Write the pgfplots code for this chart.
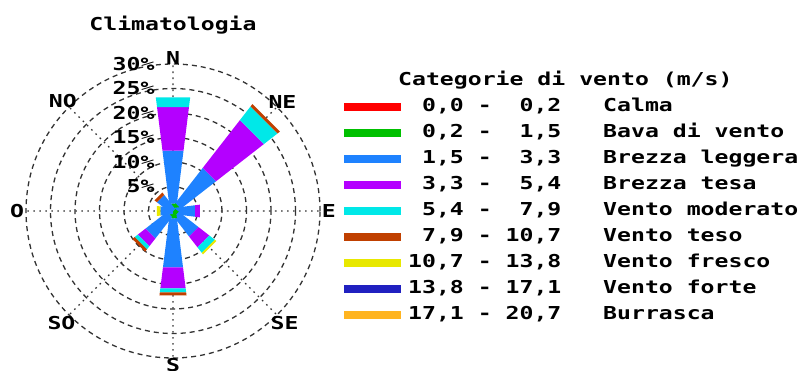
\documentclass[border=0pt]{standalone}
\usepackage{pgfplots}
\pgfplotsset{compat=1.18}
\usepgfplotslibrary{polar}
\usepackage{fontspec}
\newfontfamily\mono{DejaVu Sans Mono}[FakeStretch=1.3]
\newcommand\ff{\fontsize{17.8}{20}\selectfont\mono\bfseries}
\newcommand\s{\hphantom{0}}
\definecolor{cRed}{HTML}{FF0000}
\definecolor{cGreen}{HTML}{00C000}
\definecolor{cBlue}{HTML}{1E82FF}
\definecolor{cPurple}{HTML}{B400FF}
\definecolor{cCyan}{HTML}{00E8E8}
\definecolor{cBrown}{HTML}{C04000}
\definecolor{cYellow}{HTML}{E8E800}
\definecolor{cDBlue}{HTML}{2020C0}
\definecolor{cOrange}{HTML}{FFB420}
% bar segment of one direction: direction angle (degrees), inner and outer value (%), colour
% the bar is a trapezoid whose half width grows from 0.61 (%-units) at the centre
\newcommand\seg[4]{%
  \pgfmathsetmacro\wA{0.61+0.125*#2}%
  \pgfmathsetmacro\wB{0.61+0.125*#3}%
  \pgfmathsetmacro\rA{sqrt((#2)*(#2)+\wA*\wA)}%
  \pgfmathsetmacro\rB{sqrt((#3)*(#3)+\wB*\wB)}%
  \pgfmathsetmacro\dA{atan2(\wA,#2)}%
  \pgfmathsetmacro\dB{atan2(\wB,#3)}%
  \pgfmathsetmacro\aAL{#1+\dA}\pgfmathsetmacro\aAR{#1-\dA}%
  \pgfmathsetmacro\aBL{#1+\dB}\pgfmathsetmacro\aBR{#1-\dB}%
  \edef\tmp{\noexpand\addplot[forget plot,fill=#4,draw=none] coordinates
    {(\aAL,\rA) (\aBL,\rB) (\aBR,\rB) (\aAR,\rA)};}%
  \tmp}
\begin{document}
\begin{tikzpicture}
\useasboundingbox (0,0) rectangle (804pt,370pt);
\begin{polaraxis}[
  at={(173pt,159pt)}, anchor=center,
  width=294pt, height=294pt, scale only axis,
  clip=false,
  xmin=0, xmax=360, ymin=0, ymax=30,
  xtick={0,45,...,315}, ytick={5,10,...,30},
  xticklabels={}, yticklabels={},
  major tick length=0pt,
  axis line style={draw=none},
  xmajorgrids, ymajorgrids,
  x grid style={black!80, line width=1.4pt, dash pattern=on 1.6pt off 4.4pt},
  y grid style={black!80, line width=1.3pt, dash pattern=on 5pt off 4pt},
  title={Climatologia},
  title style={font=\ff, at={(0.5,1)}, anchor=base, yshift=19pt},
  legend image code/.code={\fill[#1] (0pt,-4pt) rectangle (57pt,4pt);},
  legend cell align=left,
  legend style={draw=none, fill=none, at={(1.0816,0.9728)}, anchor=north west,
    inner sep=0pt, row sep=9pt, column sep=7pt, font=\ff,
    nodes={inner sep=0pt, text height=13pt, text depth=4pt}},
]
% N
\seg{90}{0}{1.5}{cGreen}
\seg{90}{1.5}{12.3}{cBlue}
\seg{90}{12.3}{21.2}{cPurple}
\seg{90}{21.2}{23.2}{cCyan}
% NE
\seg{45}{0}{1.5}{cGreen}
\seg{45}{1.5}{10.5}{cBlue}
\seg{45}{10.5}{22.8}{cPurple}
\seg{45}{22.8}{26.3}{cCyan}
\seg{45}{26.3}{26.9}{cBrown}
% E
\seg{0}{0}{4.5}{cBlue}
\seg{0}{4.5}{5.5}{cPurple}
% SE
\seg{-45}{0}{1}{cGreen}
\seg{-45}{1}{6}{cBlue}
\seg{-45}{6}{8.8}{cPurple}
\seg{-45}{8.8}{10.2}{cCyan}
\seg{-45}{10.2}{10.6}{cYellow}
% S
\seg{-90}{0}{1.5}{cGreen}
\seg{-90}{1.5}{11.5}{cBlue}
\seg{-90}{11.5}{15.8}{cPurple}
\seg{-90}{15.8}{16.6}{cCyan}
\seg{-90}{16.6}{17.2}{cBrown}
% SW
\seg{-135}{0}{1}{cGreen}
\seg{-135}{1}{6.5}{cBlue}
\seg{-135}{6.5}{8.5}{cPurple}
\seg{-135}{8.5}{9.3}{cCyan}
\seg{-135}{9.3}{9.9}{cBrown}
% W
\seg{180}{0}{2.6}{cBlue}
\seg{180}{2.6}{3.3}{cYellow}
% NW
\seg{135}{0}{3.6}{cBlue}
\seg{135}{3.6}{4.2}{cBrown}

\addlegendimage{empty legend}\addlegendentry{\hspace*{-10pt}Categorie di vento (m/s)}
\addlegendimage{fill=cRed,draw=none}\addlegendentry{\s0,0\s-\s\s0,2\s\s\s Calma}
\addlegendimage{fill=cGreen,draw=none}\addlegendentry{\s0,2\s-\s\s1,5\s\s\s Bava di vento}
\addlegendimage{fill=cBlue,draw=none}\addlegendentry{\s1,5\s-\s\s3,3\s\s\s Brezza leggera}
\addlegendimage{fill=cPurple,draw=none}\addlegendentry{\s3,3\s-\s\s5,4\s\s\s Brezza tesa}
\addlegendimage{fill=cCyan,draw=none}\addlegendentry{\s5,4\s-\s\s7,9\s\s\s Vento moderato}
\addlegendimage{fill=cBrown,draw=none}\addlegendentry{\s7,9\s-\s10,7\s\s\s Vento teso}
\addlegendimage{fill=cYellow,draw=none}\addlegendentry{10,7\s-\s13,8\s\s\s Vento fresco}
\addlegendimage{fill=cDBlue,draw=none}\addlegendentry{13,8\s-\s17,1\s\s\s Vento forte}
\addlegendimage{fill=cOrange,draw=none}\addlegendentry{17,1\s-\s20,7\s\s\s Burrasca}

\foreach \p in {5,10,...,30}{
  \edef\tmp{\noexpand\node[font=\noexpand\ff, anchor=east, xshift=-15pt] at (axis cs:90,\p) {\p\noexpand\%};}
  \tmp
}
\node[font=\ff] at (axis cs:90,31.2) {N};
\node[font=\ff] at (axis cs:45,31.6) {NE};
\node[font=\ff] at (axis cs:0,31.8) {E};
\node[font=\ff] at (axis cs:-45,32.2) {SE};
\node[font=\ff] at (axis cs:-90,31.4) {S};
\node[font=\ff] at (axis cs:-135,32.2) {SO};
\node[font=\ff] at (axis cs:180,31.8) {O};
\node[font=\ff] at (axis cs:135,31.8) {NO};
\end{polaraxis}
\end{tikzpicture}
\end{document}
